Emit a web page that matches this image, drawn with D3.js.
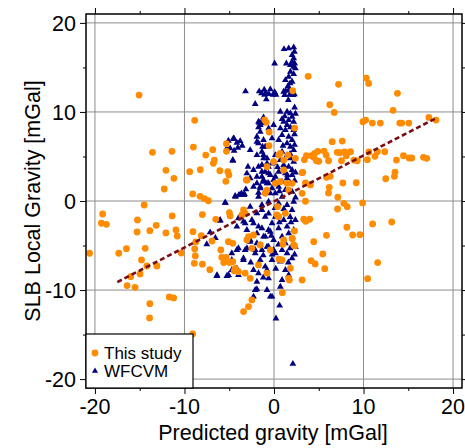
<!DOCTYPE html>
<html><head><meta charset="utf-8">
<script src="https://cdn.jsdelivr.net/npm/d3@7"></script>
<style>body{margin:0;background:#fff}svg{display:block}text{font-family:"Liberation Sans",Arial,Helvetica,sans-serif}</style>
</head><body><svg id="c" width="465" height="448"></svg>
<script>
const xDomain = [-21, 21];
const yDomain = [-21, 21];
const majorTicks = [-20, -10, 0, 10, 20];
const minorTicks = [-15, -5, 5, 15];
const xLabel = "Predicted gravity [mGal]";
const yLabel = "SLB Local Gravity [mGal]";
const legendLabels = ["This study", "WFCVM"];
const fitLine = [[-17.5, -9.1], [18.1, 9.3]];

const thisStudy = [
[-15.07,11.9],[-8.86,9.06],[-13.57,5.47],[-11.4,5.58],[-9.0,6.06],[-6.84,5.76],[-7.62,5.16],[-6.66,4.6],[-6.77,4.23],[-5.31,6.43],[-5.31,5.58],[-12.07,3.44],[-11.18,2.55],[-9.42,3.29],[-8.23,3.51],[-6.05,3.4],[-5.16,3.29],[-5.04,2.92],[-5.38,2.21],[-12.26,1.35],[-9.08,0.79],[-8.26,0.53],[-7.78,0.26],[-7.33,0.03],[-14.5,-0.45],
[-19.14,-1.46],[-19.28,-2.5],[-18.72,-2.62],[-15.25,-2.13],[-11.37,-1.68],[-13.16,-2.73],[-13.87,-3.33],[-15.29,-3.48],[-12.07,-3.59],[-10.95,-3.25],[-10.81,-3.93],[-9.05,-3.44],[-8.0,-1.53],[-6.5,-2.06],[-4.98,-1.31],[-4.9,-1.68],[-8.12,-3.89],[-8.74,-4.6],[-6.92,-4.49],[-5.09,-4.57],[-4.6,-4.75],[-20.6,-5.87],[-17.34,-5.87],[-16.48,-5.35],[-14.39,-5.31],[-10.36,-5.84],[-8.86,-5.39],[-8.79,-6.17],[-5.94,-5.5],[-5.83,-6.32],[-5.35,-6.32],[-5.61,-6.92],[-4.98,-6.92],[-4.6,-6.81],[-14.8,-6.62],[-13.08,-7.3],[-14.2,-7.3],[-8.9,-7.0],[-8.0,-7.1],[-7.17,-7.71],[-4.45,-7.82],[-16.0,-8.5],[-14.96,-8.2],[-16.41,-9.5],[-15.52,-9.69],[-11.7,-10.77],[-11.21,-10.89],[-13.87,-11.53],[-13.9,-13.13],[-9.08,-14.93],
[3.81,14.0],[10.31,13.8],[10.57,13.2],[7.21,13.1],[13.79,12.09],[6.23,10.81],[6.73,9.95],[13.3,10.18],[9.93,8.9],[10.24,9.09],[10.99,8.75],[11.88,8.75],[14.05,8.75],[14.27,8.75],[15.06,8.75],[17.3,9.39],[18.1,9.09],[6.5,6.66],[7.62,6.73],[3.62,5.08],[3.4,4.64],[4.18,5.08],[4.55,5.35],[4.89,5.58],[4.44,4.9],[4.74,4.52],[5.0,4.45],[5.6,5.61],[5.83,5.16],[6.09,4.52],[7.06,5.47],[7.35,5.42],[7.88,5.5],[8.55,5.53],[7.54,4.52],[8.07,5.08],[8.92,4.6],[9.3,4.52],[10.43,4.64],[10.6,5.5],[11.28,5.02],[11.55,5.53],[12.37,5.53],[13.68,4.6],[14.46,5.08],[15.09,4.83],[15.39,4.83],[16.7,4.9],[17.07,4.79],[3.21,3.22],[5.86,2.66],[6.28,2.77],[3.51,2.02],[4.07,1.8],[6.17,1.54],[6.09,0.9],[7.69,2.02],[9.19,2.05],[12.48,2.5],[13.52,3.25],[13.45,2.77],[7.13,0.42],[3.51,-0.03],[7.8,-0.26],[9.9,-0.22],
[8.18,-0.64],[7.1,-0.9],[3.32,-2.05],[3.54,-2.28],[3.99,-2.05],[8.14,-2.95],[8.78,-3.82],[9.6,-3.78],[11.02,-2.58],[13.15,-2.36],[5.86,-3.85],[4.44,-4.57],[5.45,-5.95],[4.15,-6.7],[4.6,-7.07],[5.67,-7.6],[11.58,-6.92],[10.46,-8.72],[3.14,-8.87],
[0.93,-10.29],[1.72,-8.87],[1.83,-7.56],[0.56,-6.54],[0.9,-6.62],[2.31,-5.05],[2.05,-4.23],[1.0,-4.86],[2.28,-3.37],[0.4,-0.64],[3.14,3.18],
[2.09,12.38],[-1.05,9.12],[-0.86,8.83],[-0.53,7.74],[2.31,8.19],[-0.56,6.21],
[0.71,5.35],[0.52,5.16],[1.57,5.16],[2.39,4.79],[-0.04,4.41],[1.08,4.6],[-0.78,3.85],[1.08,3.48],[-3.0,2.36],[0.15,1.99],[0.71,2.17],[1.46,1.99],[2.02,1.99],[-0.78,1.23],[-0.98,0.86],[1.64,1.23],[3.14,0.86],[-3.4,-1.01],[-3.22,-1.38],[-3.59,-1.57],[0.34,-1.57],[0.52,-1.76],[1.27,-1.38],[-2.85,-4.0],[-3.03,-4.38],[-2.29,-3.82],[1.08,-4.38],[2.02,-4.19],[2.2,-4.94],[-1.54,-4.94],[-2.47,-5.31],[-0.41,-5.5],[-1.73,-7.18],[-4.34,-7.56],[-3.97,-7.94],[-3.22,-8.11],[-2.66,-8.68],[-0.78,-8.11],[1.64,-8.68],[-2.47,-11.11],[-2.85,-11.86],[-3.4,-12.42],[-3.1,2.36]
];

const wfcvm = [
[1.12,17.06],[1.64,17.14],[2.2,17.25],[2.28,16.76],[2.02,16.39],[2.2,16.02],[2.02,15.63],[2.31,15.45],[1.83,15.26],[1.38,15.45],[0.07,15.45],[2.2,15.07],[2.39,14.89],[1.83,14.51],[2.2,14.25],[1.64,13.95],[1.27,13.58],[2.02,13.39],[1.79,13.21],[1.57,12.91],
[1.64,12.46],[1.3,12.38],[1.08,12.27],[2.02,12.27],[2.28,11.98],[1.75,11.93],[1.19,11.9],[2.13,11.9],[1.6,11.34],[-3.18,12.31],[-1.65,12.31],[-1.09,12.49],[-0.41,12.54],[-0.86,12.09],[-1.39,12.09],[-1.05,11.93],[-0.56,12.01],[-0.11,11.93],[0.22,11.93],[0.07,12.23],[-0.86,11.41],[-2.1,10.89],
[0.71,10.02],[1.46,10.02],[1.83,9.84],[2.02,9.46],[1.64,9.09],[2.2,8.9],[1.08,8.9],[1.46,8.53],[1.83,8.27],[0.71,8.16],[1.27,7.97],[2.2,7.97],[0.9,7.41],[1.64,7.22],[2.02,6.85],[0.52,6.85],[1.46,6.48],[1.83,6.09],[2.2,5.72],[0.9,5.53],[0.15,5.16],[1.46,5.16],[1.83,4.79],[0.71,4.6],[2.2,4.41],[-0.04,4.23],[1.08,4.04],[1.64,3.85],[2.02,3.48],[0.52,3.29],[1.27,3.11],[2.02,2.92],[0.15,2.73],[1.46,2.55],[0.9,2.17],[1.83,1.99],[0.52,1.6],[-0.22,1.43],[1.27,1.23],[2.02,1.04],[0.15,0.86],[0.9,0.48],
[-1.73,8.9],[-1.35,8.72],[-1.73,8.27],[-1.54,7.78],[-1.91,7.22],[-1.17,6.85],[-1.73,6.48],[-0.98,6.09],[-1.35,5.53],[-1.91,5.16],[-1.17,4.79],[-0.78,4.23],[-1.73,3.85],[-1.35,3.29],[-0.61,3.11],[-1.91,2.73],[-1.17,2.36],[-0.61,1.99],[-1.54,1.6],[-0.98,1.04],[-0.41,0.86],[-1.73,0.48],
[-2.91,3.85],[-2.66,5.72],[-3.78,0.67],[-3.3,0.79],[-4.34,0.56],
[-5.09,6.77],[-4.53,7.04],[-4.15,6.54],[-3.78,6.73],[-3.55,6.21],[-5.27,5.91],[-4.9,5.91],[-4.04,5.98],
[-1.54,8.53],[-1.65,8.79],[-1.17,9.39],[-1.28,9.09],[-0.04,8.53],[-0.6,8.16],[-1.91,6.66],[-1.28,6.09],[-0.22,7.04],
[-4.6,4.6],[-5.43,-0.19],[-3.92,0.67],[-3.36,0.67],[-4.3,0.48],[-3.63,0.86],[-3.14,1.31],[-2.29,1.6],[-1.91,1.99],[-1.23,2.17],[-1.54,1.43],[-0.98,1.04],[-1.73,0.93],
[-1.17,5.16],[-0.78,4.79],[-1.35,4.04],[-0.61,3.85],[-0.22,4.23],[-0.98,3.29],[-0.41,2.92],[-1.35,2.73],[-0.04,2.36],[-0.78,1.99],[-2.29,3.48],[-3.03,3.11],[-2.66,2.55],
[-6.02,-2.13],[-3.97,-1.94],[-3.41,-2.32],[-4.15,-2.88],[-3.03,-3.25],[-2.29,-2.5],[-1.91,-3.63],[-1.35,-3.06],[-0.98,-4.0],[-0.41,-3.45],[-2.66,-4.57],[-1.54,-4.94],[-0.78,-5.13],[-0.04,-4.38],[-0.04,-5.5],[-2.1,-5.5],[-4.15,-5.5],[-3.03,-5.31],[-3.41,-6.43],[-4.71,-6.62],[-4.15,-7.56],[-1.54,-6.62],[-2.29,-7.74],[-0.78,-7.74],[-0.61,-8.68],[-1.91,-9.06],[-6.39,-8.42],[-5.27,-8.42],[-4.71,-7.74],[-0.78,-9.99],[-2.1,-9.99],[-0.22,-10.74],[-2.29,-10.74],
[-3.22,-2.5],[-2.47,-2.13],[-1.91,-1.38],[-1.35,-1.01],[-0.98,-1.76],[-1.73,-2.88],[-2.66,-4.38],[-1.91,-4.75],[-1.17,-4.0],[-0.61,-3.25],[-0.22,-2.5],[0.15,-1.76],[0.52,-3.06],[1.08,-2.13],[1.46,-2.88],[0.9,-4.0],[1.27,-4.75],[1.64,-3.63],[-0.61,-5.13],[-1.35,-5.5],[-2.1,-5.87],[-3.22,-5.5],[-3.97,-5.31],[-4.71,-5.87],[0.15,-5.87],[0.9,-5.5],[1.46,-5.87],[0.71,-6.81],[-0.22,-6.62],[-0.98,-7.37],[-1.73,-8.11],[-3.41,-6.62],[-5.09,-8.31],[-3.97,-8.31],[1.27,-7.74],[0.9,-8.87],[1.64,-8.31],[0.71,-9.62],
[-0.61,-0.08],[0.52,-0.26],[1.46,-0.45],[2.2,-0.08],[-1.35,-0.45],[-2.66,-0.64],[2.02,-1.01],[2.39,-2.13],[2.2,-3.25],[2.39,-5.13],[2.02,-6.43],
[-1.91,-9.91],[-0.41,-10.74],[0.63,-11.75],[0.22,-13.19],[2.11,-18.29],
[-5.46,-0.19],[-6.02,-2.21],[-7.14,-3.52],[-6.55,-4.15],[-7.51,-4.86],[-6.36,-8.34],[-5.09,-8.34],
[-4.45,6.96],[-4.45,5.65],[-4.6,4.52],
[2.3,10.5],[2.4,9.8],[1.2,9.5],[0.9,9.2],[2.3,7.5],[1.0,6.2],[2.3,6.3],[1.8,5.3],[0.4,3.8],[2.4,3.2],[1.5,2.9],[2.3,2.3],[0.6,1.1],[2.4,0.4],[1.1,-0.9],[0.1,-0.8],[-0.6,-1.4],[1.8,-1.8],[0.6,-2.4],[1.9,-2.4],[-0.3,-3.9],[0.5,-4.9],[1.8,-5.3],[2.3,-6.0],[-1.2,-6.1],[-0.2,-6.0],[1.6,-6.9],[-2.6,-6.9],[0.2,-7.6],[-1.2,-8.6]
];

const svg = d3.select("#c");
const L = 86, R = 462, T = 14, B = 388;
const x = d3.scaleLinear().domain(xDomain).range([L, R]);
const y = d3.scaleLinear().domain(yDomain).range([B, T]);

// grid
const grid = svg.append("g").attr("stroke", "#8c8c8c").attr("stroke-width", 1);
majorTicks.forEach(t => {
  grid.append("line").attr("x1", x(t)).attr("x2", x(t)).attr("y1", T).attr("y2", B);
  grid.append("line").attr("y1", y(t)).attr("y2", y(t)).attr("x1", L).attr("x2", R);
});

// axes with outward ticks on all sides
function styleAxis(g) {
  g.select(".domain").remove();
  g.selectAll("line").attr("stroke", "#000").attr("stroke-width", 1);
}
const sides = [
  [() => d3.axisBottom(x), `translate(0,${B})`],
  [() => d3.axisTop(x), `translate(0,${T})`],
  [() => d3.axisLeft(y), `translate(${L},0)`],
  [() => d3.axisRight(y), `translate(${R},0)`]
];
sides.forEach(([mk, tr]) => {
  svg.append("g").attr("transform", tr)
    .call(mk().tickValues(majorTicks).tickSize(6).tickFormat(""))
    .call(styleAxis);
  svg.append("g").attr("transform", tr)
    .call(mk().tickValues(minorTicks).tickSize(3).tickFormat(""))
    .call(styleAxis);
});

// tick labels
svg.append("g").selectAll("text").data(majorTicks).join("text")
  .attr("x", d => x(d)).attr("y", 414).attr("text-anchor", "middle")
  .attr("font-size", 21.5).text(d => String(d));
svg.append("g").selectAll("text").data(majorTicks).join("text")
  .attr("x", 76).attr("y", d => y(d)).attr("dy", "0.36em").attr("text-anchor", "end")
  .attr("font-size", 21.5).text(d => String(d));

// axis titles
svg.append("text").attr("x", 273).attr("y", 440).attr("text-anchor", "middle")
  .attr("font-size", 21.5).text(xLabel);
svg.append("text").attr("transform", `translate(40,${(T + B) / 2}) rotate(-90)`)
  .attr("text-anchor", "middle").attr("font-size", 21.5).text(yLabel);

// data
const tri = d3.symbol().type(d3.symbolTriangle).size(20);
svg.append("g").selectAll("path").data(wfcvm).join("path")
  .attr("d", tri).attr("fill", "#000080")
  .attr("transform", d => `translate(${x(d[0])},${y(d[1])})`);
svg.append("g").selectAll("circle").data(thisStudy).join("circle")
  .attr("cx", d => x(d[0])).attr("cy", d => y(d[1])).attr("r", 3.4)
  .attr("fill", "#ff8c00");

// fit line
svg.append("path").datum(fitLine)
  .attr("d", d3.line().x(d => x(d[0])).y(d => y(d[1])))
  .attr("fill", "none").attr("stroke", "#7a0c14").attr("stroke-width", 2.6)
  .attr("stroke-dasharray", "5,3");

// frame
svg.append("rect").attr("x", L).attr("y", T).attr("width", R - L).attr("height", B - T)
  .attr("fill", "none").attr("stroke", "#000").attr("stroke-width", 1.5);

// legend
const lg = svg.append("g");
lg.append("rect").attr("x", L).attr("y", 334).attr("width", 107).attr("height", B - 334)
  .attr("fill", "#fff").attr("stroke", "#000").attr("stroke-width", 1.2);
lg.append("circle").attr("cx", 95).attr("cy", 353).attr("r", 3.4).attr("fill", "#ff8c00");
lg.append("path").attr("d", d3.symbol().type(d3.symbolTriangle).size(16)).attr("fill", "#000080")
  .attr("transform", "translate(95,371)");
lg.selectAll("text").data(legendLabels).join("text")
  .attr("x", 104).attr("y", (d, i) => 359 + i * 18).attr("font-size", 17).text(d => d);
</script>
</body></html>
